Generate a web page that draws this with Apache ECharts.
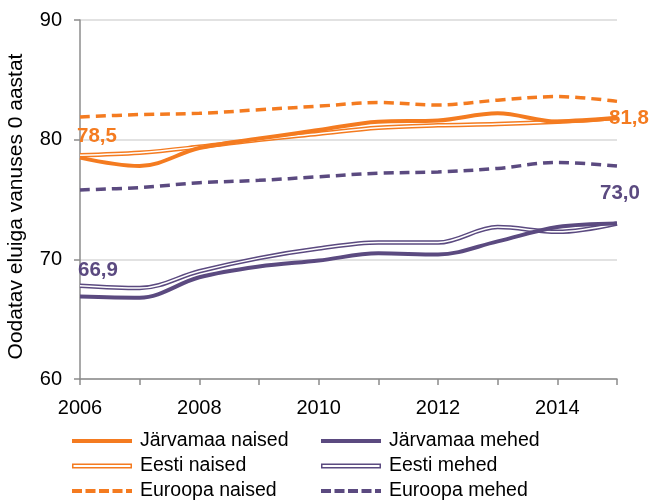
<!DOCTYPE html>
<html><head><meta charset="utf-8">
<script src="https://cdn.jsdelivr.net/npm/echarts@6/dist/echarts.min.js"></script>
<style>html,body{margin:0;padding:0;background:#fff}#c{width:653px;height:502px}</style>
</head><body><div id="c"></div>
<script>
const years = ['2006','2007','2008','2009','2010','2011','2012','2013','2014','2015'];
const jarvaNaised = [78.5, 77.8, 79.3, 80.1, 80.8, 81.5, 81.6, 82.2, 81.5, 81.8];
const eestiNaised = [78.7, 78.9, 79.4, 80.0, 80.5, 81.0, 81.2, 81.3, 81.5, 81.8];
const euroNaised  = [81.9, 82.1, 82.2, 82.5, 82.8, 83.1, 82.9, 83.3, 83.6, 83.2];
const jarvaMehed  = [66.9, 66.8, 68.5, 69.4, 69.9, 70.5, 70.4, 71.5, 72.7, 73.0];
const eestiMehed  = [67.8, 67.6, 69.0, 70.1, 70.9, 71.4, 71.4, 72.7, 72.3, 73.0];
const euroMehed   = [75.8, 76.0, 76.4, 76.6, 76.9, 77.2, 77.3, 77.6, 78.1, 77.8];

const ORANGE = '#F47B20';
const PURPLE = '#5B4A80';
const FONT = '"Liberation Sans", Arial, sans-serif';
const fmt = v => v.toFixed(1).replace('.', ',');

function labelled(arr, color, first, last) {
  return arr.map((v, i) => {
    let cfg = null;
    if (i === 0 && first) cfg = first;
    if (i === arr.length - 1 && last) cfg = last;
    if (!cfg) return v;
    return { value: v, label: Object.assign({ show: true, color: color, fontWeight: 'bold', fontSize: 20.5, fontFamily: FONT, formatter: p => fmt(p.value) }, cfg) };
  });
}

const solidIcon = 'path://M0,0L60,0L60,4L0,4Z';
const ringIcon = 'path://M0,0L60,0L60,5L0,5Z M1.5,1.5L1.5,3.5L58.5,3.5L58.5,1.5Z';
const dashIcon = 'path://M0,0L10,0L10,4L0,4Z M13.5,0L23.5,0L23.5,4L13.5,4Z M27,0L37,0L37,4L27,4Z M40.5,0L50.5,0L50.5,4L40.5,4Z M54,0L60,0L60,4L54,4Z';
const SM = 0.35;

const series = [
  { name: 'Euroopa naised', type: 'line', data: euroNaised, smooth: SM, symbol: 'none',
    lineStyle: { color: ORANGE, width: 3.5, type: [10, 6] }, itemStyle: { color: ORANGE } },
  { name: 'Euroopa mehed', type: 'line', data: euroMehed, smooth: SM, symbol: 'none',
    lineStyle: { color: PURPLE, width: 3.5, type: [10, 6] }, itemStyle: { color: PURPLE } },
  { name: 'Eesti naised', type: 'line', data: eestiNaised, smooth: SM, symbol: 'none',
    lineStyle: { color: ORANGE, width: 4.5 }, itemStyle: { color: ORANGE } },
  { name: 'Eesti naised ', type: 'line', data: eestiNaised, smooth: SM, symbol: 'none',
    lineStyle: { color: '#fff', width: 1.5 }, itemStyle: { color: '#fff' }, silent: true },
  { name: 'Eesti mehed', type: 'line', data: eestiMehed, smooth: SM, symbol: 'none',
    lineStyle: { color: PURPLE, width: 4.5 }, itemStyle: { color: PURPLE } },
  { name: 'Eesti mehed ', type: 'line', data: eestiMehed, smooth: SM, symbol: 'none',
    lineStyle: { color: '#fff', width: 1.5 }, itemStyle: { color: '#fff' }, silent: true },
  { name: 'Järvamaa naised', type: 'line', smooth: SM, symbol: 'circle', symbolSize: 0.01, showSymbol: true, z: 5,
    data: labelled(jarvaNaised, ORANGE, { position: 'top', offset: [17, -6] }, { position: 'right', offset: [-13, 0] }),
    lineStyle: { color: ORANGE, width: 4 }, itemStyle: { color: ORANGE } },
  { name: 'Järvamaa mehed', type: 'line', smooth: SM, symbol: 'circle', symbolSize: 0.01, showSymbol: true, z: 5,
    data: labelled(jarvaMehed, PURPLE, { position: 'top', offset: [18, -11] }, { position: 'top', offset: [3, -15] }),
    lineStyle: { color: PURPLE, width: 4 }, itemStyle: { color: PURPLE } }
];

const legendText = { fontSize: 19.5, color: '#000', fontFamily: FONT, lineHeight: 20, padding: [0, 0, 0, 3] };
const legendCommon = { orient: 'vertical', itemWidth: 60, itemHeight: 14, itemGap: 5, textStyle: legendText, selectedMode: false, padding: 0 };

const option = {
  animation: false,
  grid: { left: 80, right: 36, top: 20, bottom: 123, containLabel: false, outerBoundsMode: 'none' },
  xAxis: {
    type: 'category', data: years, boundaryGap: false,
    axisLine: { lineStyle: { color: '#8c8c8c', width: 1.5 } },
    axisTick: { show: true, interval: 0, length: 6, lineStyle: { color: '#8c8c8c', width: 1.5 } },
    axisLabel: { interval: 1, fontSize: 20, color: '#000', fontFamily: FONT, margin: 19 }
  },
  yAxis: {
    type: 'value', min: 60, max: 90, interval: 10,
    name: 'Oodatav eluiga vanuses 0 aastat', nameLocation: 'middle', nameGap: 53, nameRotate: 90,
    nameTextStyle: { fontSize: 21, color: '#000', fontFamily: FONT, padding: [0, 14, 0, 0] },
    axisLine: { show: true, lineStyle: { color: '#8c8c8c', width: 1.5 } },
    axisTick: { show: true, length: 6, lineStyle: { color: '#8c8c8c', width: 1.5 } },
    axisLabel: { fontSize: 20, color: '#000', fontFamily: FONT, margin: 18 },
    splitLine: { show: true, lineStyle: { color: '#d9d9d9', width: 1.5 } }
  },
  legend: [
    Object.assign({ left: 72, top: 431, data: [
      { name: 'Järvamaa naised', icon: solidIcon }, { name: 'Eesti naised', icon: ringIcon }, { name: 'Euroopa naised', icon: dashIcon }] }, legendCommon),
    Object.assign({ left: 321, top: 431, data: [
      { name: 'Järvamaa mehed', icon: solidIcon }, { name: 'Eesti mehed', icon: ringIcon }, { name: 'Euroopa mehed', icon: dashIcon }] }, legendCommon)
  ],
  series: series
};
const chart = echarts.init(document.getElementById('c'), null, { renderer: 'canvas' });
chart.setOption(option);
</script>
</body></html>
